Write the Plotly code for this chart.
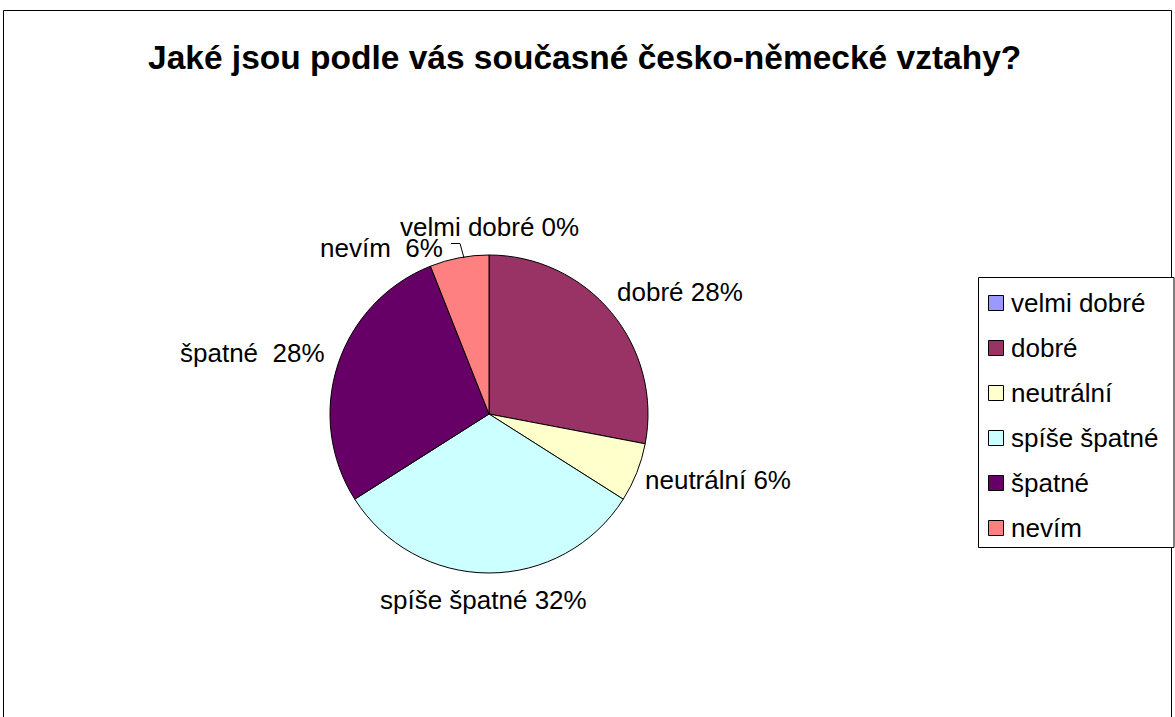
import plotly.graph_objects as go

categories = ["velmi dobré", "dobré", "neutrální", "spíše špatné", "špatné", "nevím"]
values = [0, 28, 6, 32, 28, 6]
colors = ["#9999FF", "#993366", "#FFFFCC", "#CCFFFF", "#660066", "#FF8080"]
label_sep = [" ", " ", " ", " ", "\u00a0\u00a0", "\u00a0\u00a0"]
title_text = "Jaké jsou podle vás současné česko-německé vztahy?"

W, H = 1175, 717
FONT = "Liberation Sans, Arial, sans-serif"

def px(x):
    return x / W

def py(y):
    return 1 - y / H

cx, cy, r = 489, 414, 159

fig = go.Figure()
fig.add_trace(go.Pie(
    labels=categories,
    values=values,
    sort=False,
    direction="clockwise",
    rotation=0,
    marker=dict(colors=colors, line=dict(color="black", width=1)),
    textinfo="none",
    hoverinfo="label+percent",
    showlegend=False,
    domain=dict(x=[px(cx - r), px(cx + r)], y=[py(cy + r), py(cy - r)]),
))

# data labels (pixel anchor positions, left edge / vertical centre)
label_pos = [(398, 227), (615, 292), (643, 480), (378, 600), (178, 353), (318, 248)]
annotations = []
for cat, val, sep, (lx, ly) in zip(categories, values, label_sep, label_pos):
    annotations.append(dict(
        x=px(lx), y=py(ly), xref="paper", yref="paper",
        text=f"{cat}{sep}{val}%", showarrow=False,
        xanchor="left", yanchor="middle",
        font=dict(family=FONT, size=26, color="black"),
    ))

# title
annotations.append(dict(
    x=px(584), y=py(57), xref="paper", yref="paper", text=f"<b>{title_text}</b>",
    showarrow=False, xanchor="center", yanchor="middle",
    font=dict(family=FONT, size=33.5, color="black"),
))

shapes = []
# outer frame
shapes.append(dict(type="rect", xref="paper", yref="paper",
                   x0=px(3.5), x1=px(1171.5), y0=py(730), y1=py(10.5),
                   line=dict(color="black", width=1), fillcolor="rgba(0,0,0,0)"))
# leader line for zero slice
shapes.append(dict(type="path", xref="paper", yref="paper",
                   path=f"M {px(451)},{py(243.5)} L {px(460)},{py(243.5)} L {px(464)},{py(258)}",
                   line=dict(color="black", width=1)))

# custom legend
lg_x0, lg_y0, lg_x1, lg_y1 = 978.5, 277.5, 1174, 547.5
shapes.append(dict(type="rect", xref="paper", yref="paper",
                   x0=px(lg_x0), x1=px(lg_x1), y0=py(lg_y1), y1=py(lg_y0),
                   line=dict(color="black", width=1), fillcolor="white"))
for i, (cat, col) in enumerate(zip(categories, colors)):
    yc = 303 + 45 * i
    shapes.append(dict(type="rect", xref="paper", yref="paper",
                       x0=px(988.5), x1=px(1003.5), y0=py(yc + 7.5), y1=py(yc - 7.5),
                       line=dict(color="black", width=1), fillcolor=col))
    annotations.append(dict(
        x=px(1009), y=py(yc), xref="paper", yref="paper", text=cat,
        showarrow=False, xanchor="left", yanchor="middle",
        font=dict(family=FONT, size=26, color="black"),
    ))

fig.update_layout(
    width=W, height=H,
    margin=dict(l=0, r=0, t=0, b=0),
    paper_bgcolor="white", plot_bgcolor="white",
    annotations=annotations, shapes=shapes,
    showlegend=False,
)

fig.write_html("out.html", config={"displayModeBar": False},
               post_script="document.body.style.margin='0';document.body.style.overflow='hidden';")
